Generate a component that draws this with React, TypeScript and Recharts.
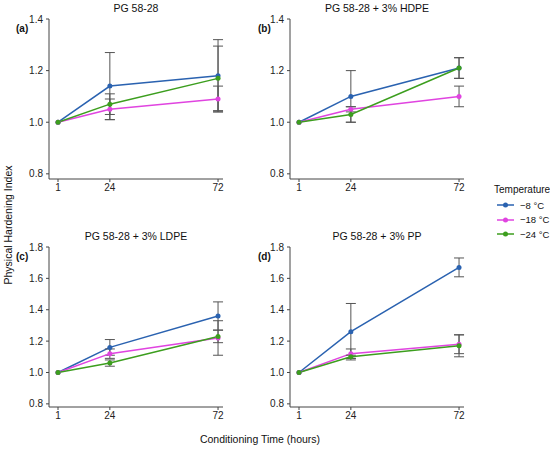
import { ErrorBar, Line, LineChart, XAxis, YAxis } from 'recharts';

// conditioning time (hours) on the x axis
const hours = [1, 24, 72];
const tempLabels = ['\u22128 \u00b0C', '\u221218 \u00b0C', '\u221224 \u00b0C'];
const tempColors = ['#2a62b0', '#e044e0', '#3c9e1e'];

const panelTitles = ['PG 58-28', 'PG 58-28 + 3% HDPE', 'PG 58-28 + 3% LDPE', 'PG 58-28 + 3% PP'];
const panelLetters = ['(a)', '(b)', '(c)', '(d)'];

// (a) PG 58-28
const baseM8 = [1.0, 1.14, 1.18];
const baseM8Err = [null, 0.13, 0.14];
const baseM18 = [1.0, 1.05, 1.09];
const baseM18Err = [null, 0.04, 0.05];
const baseM24 = [1.0, 1.07, 1.17];
const baseM24Err = [null, 0.04, 0.125];

// (b) + 3% HDPE
const hdpeM8 = [1.0, 1.1, 1.21];
const hdpeM8Err = [null, 0.1, 0.04];
const hdpeM18 = [1.0, 1.05, 1.1];
const hdpeM18Err = [null, 0.01, 0.04];
const hdpeM24 = [1.0, 1.03, 1.21];
const hdpeM24Err = [null, 0.03, 0.04];

// (c) + 3% LDPE
const ldpeM8 = [1.0, 1.16, 1.36];
const ldpeM8Err = [null, 0.05, 0.09];
const ldpeM18 = [1.0, 1.12, 1.22];
const ldpeM18Err = [null, 0.03, 0.11];
const ldpeM24 = [1.0, 1.06, 1.23];
const ldpeM24Err = [null, 0.02, 0.04];

// (d) + 3% PP
const ppM8 = [1.0, 1.26, 1.67];
const ppM8Err = [null, 0.18, 0.06];
const ppM18 = [1.0, 1.12, 1.18];
const ppM18Err = [null, 0.03, 0.06];
const ppM24 = [1.0, 1.1, 1.17];
const ppM24Err = [null, 0.01, 0.07];

const topTicks = [0.8, 1.0, 1.2, 1.4];
const bottomTicks = [0.8, 1.0, 1.2, 1.4, 1.6, 1.8];

const FONT = '"Liberation Sans", Arial, sans-serif';
const keys = ['m8', 'm18', 'm24'];

function rowsOf(vals: number[][], errs: (number | null)[][]) {
  return hours.map((h, i) => {
    const row: Record<string, number | null> = { hour: h };
    keys.forEach((k, j) => {
      row[k] = vals[j][i];
      row[k + 'Err'] = errs[j][i];
    });
    return row;
  });
}

const panels = [
  { rows: rowsOf([baseM8, baseM18, baseM24], [baseM8Err, baseM18Err, baseM24Err]), left: 0, top: 0, domain: [0.78, 1.4], ticks: topTicks },
  { rows: rowsOf([hdpeM8, hdpeM18, hdpeM24], [hdpeM8Err, hdpeM18Err, hdpeM24Err]), left: 241, top: 0, domain: [0.78, 1.4], ticks: topTicks },
  { rows: rowsOf([ldpeM8, ldpeM18, ldpeM24], [ldpeM8Err, ldpeM18Err, ldpeM24Err]), left: 0, top: 228, domain: [0.78, 1.8], ticks: bottomTicks },
  { rows: rowsOf([ppM8, ppM18, ppM24], [ppM8Err, ppM18Err, ppM24Err]), left: 241, top: 228, domain: [0.78, 1.8], ticks: bottomTicks },
];

function Panel({ p, idx }: { p: any; idx: number }) {
  return (
    <div style={{ position: 'absolute', left: p.left, top: p.top }}>
      <LineChart width={235} height={200} data={p.rows} margin={{ top: 19, right: 12, bottom: 0, left: 0 }}>
        <XAxis
          type="number"
          dataKey="hour"
          domain={[-3, 74.2]}
          ticks={hours}
          interval={0}
          allowDataOverflow
          height={21}
          tickSize={3}
          tickMargin={2}
          stroke="#444"
          tick={{ fill: '#222', fontSize: 10, fontFamily: FONT }}
        />
        <YAxis
          type="number"
          domain={p.domain}
          ticks={p.ticks}
          interval={0}
          allowDataOverflow
          width={49}
          tickSize={3}
          tickMargin={3}
          stroke="#444"
          tickFormatter={(v: number) => v.toFixed(1)}
          tick={{ fill: '#222', fontSize: 10, fontFamily: FONT }}
        />
        {keys.map((k, j) => (
          <Line
            key={k}
            dataKey={k}
            stroke={tempColors[j]}
            strokeWidth={1.5}
            dot={{ r: 2.5, fill: tempColors[j], stroke: tempColors[j], strokeWidth: 0 }}
            isAnimationActive={false}
          >
            <ErrorBar dataKey={k + 'Err'} width={5} stroke="#555" strokeWidth={1} direction="y" />
          </Line>
        ))}
      </LineChart>
      <div style={{ position: 'absolute', left: 49, width: 174, top: 2, textAlign: 'center', whiteSpace: 'nowrap', fontSize: 10.5, fontFamily: FONT, color: '#111' }}>
        {panelTitles[idx]}
      </div>
      <div style={{ position: 'absolute', left: p.left === 0 ? 16 : 17, top: 23, fontSize: 10, fontWeight: 'bold', fontFamily: FONT, color: '#111' }}>
        {panelLetters[idx]}
      </div>
    </div>
  );
}

export default function App() {
  return (
    <div style={{ position: 'absolute', left: 0, top: 0, width: 550, height: 450, background: '#fff', fontFamily: FONT, whiteSpace: 'nowrap' }}>
      {panels.map((p, i) => (
        <Panel key={i} p={p} idx={i} />
      ))}
      <div style={{ position: 'absolute', left: 8, top: 225, width: 0, height: 0 }}>
        <div style={{ position: 'absolute', transform: 'translate(-50%, -50%) rotate(-90deg)', whiteSpace: 'nowrap', fontSize: 10.5, color: '#111' }}>
          Physical Hardening Index
        </div>
      </div>
      <div style={{ position: 'absolute', left: 160, width: 200, top: 433, textAlign: 'center', fontSize: 10.5, color: '#111' }}>
        Conditioning Time (hours)
      </div>
      <div style={{ position: 'absolute', left: 494, top: 184, fontSize: 10, color: '#111', whiteSpace: 'nowrap' }}>Temperature</div>
      {tempLabels.map((lab, j) => (
        <div key={lab} style={{ position: 'absolute', left: 496, top: 199 + j * 14.6, height: 12, display: 'flex', alignItems: 'center', whiteSpace: 'nowrap' }}>
          <svg width={19} height={12} style={{ flex: 'none' }}>
            <line x1={1} x2={18} y1={6} y2={6} stroke={tempColors[j]} strokeWidth={1.5} />
            <circle cx={9.5} cy={6} r={2.5} fill={tempColors[j]} />
          </svg>
          <span style={{ marginLeft: 5, fontSize: 9.5, color: '#111', whiteSpace: 'nowrap' }}>{lab}</span>
        </div>
      ))}
    </div>
  );
}
